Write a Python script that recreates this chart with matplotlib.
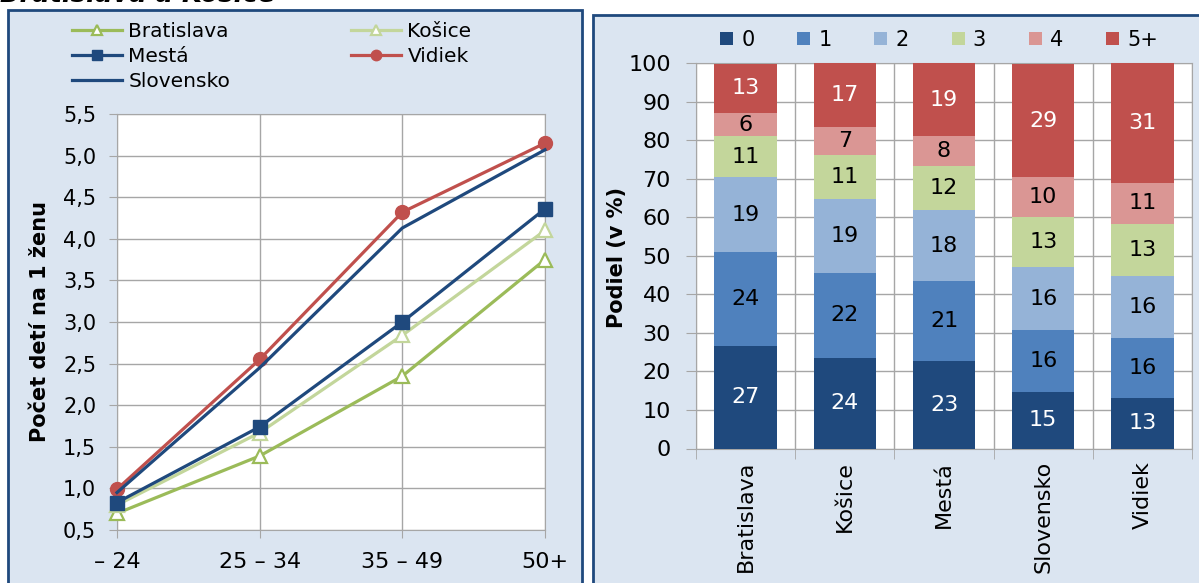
import matplotlib.pyplot as plt
from matplotlib.patches import Rectangle
from matplotlib.ticker import FuncFormatter, MultipleLocator

# ľavý graf - počet detí na 1 ženu podľa veku
vekove_skupiny = ['– 24', '25 – 34', '35 – 49', '50+']
bratislava = [0.70, 1.39, 2.35, 3.75]
kosice = [0.80, 1.67, 2.84, 4.10]
mesta = [0.83, 1.74, 3.00, 4.36]
vidiek = [0.99, 2.55, 4.32, 5.15]
slovensko = [0.95, 2.45, 4.13, 5.07]

# pravý graf - podiel žien podľa počtu detí (v %)
regiony = ['Bratislava', 'Košice', 'Mestá', 'Slovensko', 'Vidiek']
pocet_deti = ['0', '1', '2', '3', '4', '5+']
podiel_0 = [26.6, 23.6, 22.6, 14.6, 13.2]
podiel_1 = [24.4, 21.9, 20.8, 16.1, 15.6]
podiel_2 = [19.4, 19.3, 18.4, 16.4, 16.1]
podiel_3 = [10.7, 11.4, 11.6, 12.9, 13.4]
podiel_4 = [6.0, 7.3, 7.7, 10.4, 10.7]
podiel_5 = [12.8, 16.6, 19.0, 29.4, 31.0]

W, H = 1199, 583
plt.rcParams['font.family'] = ['DejaVu Sans']
fig = plt.figure(figsize=(W / 100, H / 100), dpi=100, facecolor='white')

PANEL = '#dbe5f1'
OKRAJ = '#1f497d'
MRIEZKA = '#a6a6a6'


def fx(px):
    return px / W


def fy(py):
    return 1 - py / H


# pozadie panelov
fig.patches.append(Rectangle((fx(8), fy(600)), fx(582) - fx(8), fy(10) - fy(600),
                             transform=fig.transFigure, facecolor=PANEL,
                             edgecolor=OKRAJ, linewidth=2, zorder=-10))
fig.patches.append(Rectangle((fx(593), fy(600)), fx(1230) - fx(593), fy(15) - fy(600),
                             transform=fig.transFigure, facecolor=PANEL,
                             edgecolor=OKRAJ, linewidth=2, zorder=-10))

fig.text(fx(0), fy(2), 'Bratislava a Košice', fontsize=18.5, fontweight='bold',
         fontstyle='italic', va='baseline', ha='left')

# ---------- ľavý graf ----------
ax1 = fig.add_axes([fx(117), fy(530), fx(545) - fx(117), fy(114) - fy(530)])
ax1.set_facecolor('white')
x = range(len(vekove_skupiny))

l_bra, = ax1.plot(x, bratislava, color='#9bbb59', linewidth=2.3, marker='^',
                  markersize=9.5, markerfacecolor='white', markeredgecolor='#9bbb59',
                  markeredgewidth=1.6, label='Bratislava', zorder=3, clip_on=False)
l_kos, = ax1.plot(x, kosice, color='#c3d69b', linewidth=2.3, marker='^',
                  markersize=9.5, markerfacecolor='white', markeredgecolor='#c3d69b',
                  markeredgewidth=1.6, label='Košice', zorder=3, clip_on=False)
l_vid, = ax1.plot(x, vidiek, color='#c0504d', linewidth=2.3, marker='o',
                  markersize=10, label='Vidiek', zorder=4, clip_on=False)
l_svk, = ax1.plot(x, slovensko, color='#1f497d', linewidth=2.3,
                  label='Slovensko', zorder=4, clip_on=False)
l_mes, = ax1.plot(x, mesta, color='#1f497d', linewidth=2.3, marker='s',
                  markersize=9.5, label='Mestá', zorder=5, clip_on=False)

ax1.set_xlim(0, 3)
ax1.set_ylim(0.5, 5.5)
ax1.yaxis.set_major_locator(MultipleLocator(0.5))
ax1.yaxis.set_major_formatter(FuncFormatter(lambda v, p: f'{v:.1f}'.replace('.', ',')))
ax1.set_xticks(list(x))
ax1.set_xticklabels(vekove_skupiny, fontsize=16)
ax1.tick_params(axis='y', labelsize=15, length=6, color=MRIEZKA, pad=9)
ax1.tick_params(axis='x', length=6, color=MRIEZKA, pad=10)
ax1.grid(True, color=MRIEZKA, linewidth=1)
ax1.set_axisbelow(True)
for s in ax1.spines.values():
    s.set_color(MRIEZKA)
fig.text(fx(40), fy(322), 'Počet detí na 1 ženu', fontsize=15, fontweight='bold',
         rotation=90, ha='center', va='center')

ax1.legend(handles=[l_bra, l_mes, l_svk, l_kos, l_vid], ncol=2,
           loc='upper left', bbox_to_anchor=(fx(72), fy(22)),
           bbox_transform=fig.transFigure, frameon=False, fontsize=14.5,
           handlelength=2.5, handletextpad=0.3, columnspacing=6.0,
           labelspacing=0.3, borderpad=0, borderaxespad=0, markerscale=0.75)

# ---------- pravý graf ----------
ax2 = fig.add_axes([fx(696), fy(448.5), fx(1192) - fx(696), fy(63.3) - fy(448.5)])
ax2.set_facecolor('white')
farby = ['#1f497d', '#4f81bd', '#95b3d7', '#c3d69b', '#da9694', '#c0504d']
farby_textu = ['white', 'black', 'black', 'black', 'black', 'white']
serie = [podiel_0, podiel_1, podiel_2, podiel_3, podiel_4, podiel_5]
pos = range(len(regiony))
spodok = [0] * len(regiony)
for nazov, hodnoty, farba, ft in zip(pocet_deti, serie, farby, farby_textu):
    bars = ax2.bar(pos, hodnoty, width=0.63, bottom=spodok, color=farba,
                   label=nazov, zorder=3)
    ax2.bar_label(bars, fmt='%.0f', label_type='center', color=ft, fontsize=16)
    spodok = [b + h for b, h in zip(spodok, hodnoty)]

ax2.set_xlim(-0.5, 4.5)
ax2.set_ylim(0, 100)
ax2.yaxis.set_major_locator(MultipleLocator(10))
ax2.set_xticks(list(pos))
ax2.set_xticklabels(regiony, rotation=90, fontsize=16)
ax2.set_xticks([i + 0.5 for i in range(-1, len(regiony))], minor=True)
ax2.tick_params(axis='x', which='major', length=0, pad=9)
ax2.tick_params(axis='x', which='minor', length=7, color=MRIEZKA)
ax2.tick_params(axis='y', labelsize=16, length=7, color=MRIEZKA, pad=11)
ax2.grid(True, axis='y', color=MRIEZKA, linewidth=1)
ax2.grid(True, axis='x', which='minor', color=MRIEZKA, linewidth=1)
ax2.set_axisbelow(True)
for s in ax2.spines.values():
    s.set_color(MRIEZKA)
fig.text(fx(617), fy(257), 'Podiel (v %)', fontsize=15, fontweight='bold',
         rotation=90, ha='center', va='center')

ax2.legend(ncol=6, loc='center left', bbox_to_anchor=(fx(720), fy(40)),
           bbox_transform=fig.transFigure, frameon=False, fontsize=15,
           handlelength=0.62, handleheight=0.6, handletextpad=0.4,
           columnspacing=2.05, borderpad=0, borderaxespad=0)

fig.savefig('out.png', dpi=100, facecolor='white')
